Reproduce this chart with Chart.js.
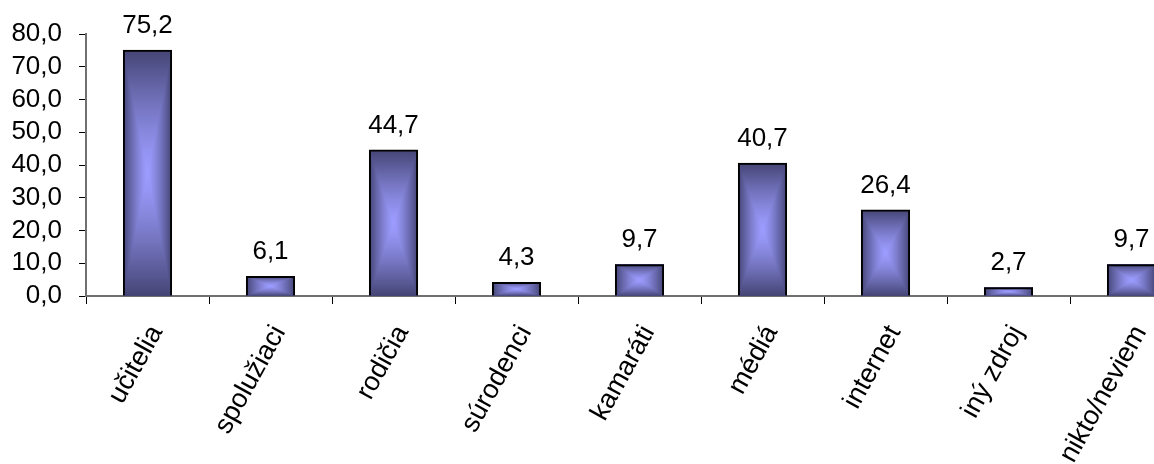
<!DOCTYPE html>
<html>
<head>
<meta charset="utf-8">
<script src="https://cdn.jsdelivr.net/npm/chart.js@4.4.1/dist/chart.umd.min.js"></script>
<style>
  html, body { margin: 0; padding: 0; background: #fff; overflow: hidden; width: 1154px; height: 464px; }
  #wrap { position: absolute; left: 0; top: 0; width: 1193px; height: 464px; }
</style>
</head>
<body>
<div id="wrap"><canvas id="c" width="1193" height="464"></canvas></div>
<script>
const categories = ['učitelia', 'spolužiaci', 'rodičia', 'súrodenci', 'kamaráti', 'médiá', 'internet', 'iný zdroj', 'nikto/neviem'];
const values = [75.2, 6.1, 44.7, 4.3, 9.7, 40.7, 26.4, 2.7, 9.7];
const yMin = 0, yMax = 80, yStep = 10;

const FONT = '"Liberation Sans", Arial, sans-serif';
const fmt = v => Number(v).toFixed(1).replace('.', ',');

const EDGE = [68, 68, 116], CENTER = [156, 156, 255];

const boxGradientPlugin = {
  id: 'boxGradient',
  beforeDatasetsDraw(chart) {
    const ctx = chart.ctx;
    const meta = chart.getDatasetMeta(0);
    meta.data.forEach(bar => {
      const l = Math.round(bar.x - bar.width / 2), r = Math.round(bar.x + bar.width / 2);
      const t = Math.round(Math.min(bar.y, bar.base)), b = Math.round(Math.max(bar.y, bar.base));
      const w = r - l, h = b - t;
      if (w <= 0 || h <= 0) return;
      const off = document.createElement('canvas');
      off.width = w; off.height = h;
      const octx = off.getContext('2d');
      const img = octx.createImageData(w, h);
      const hw = w / 2, hh = h / 2;
      for (let y = 0; y < h; y++) {
        for (let x = 0; x < w; x++) {
          const dx = Math.abs(x + 0.5 - hw) / hw;
          const dy = Math.abs(y + 0.5 - hh) / hh;
          const tt = Math.max(dx, dy);
          const k = 1 - Math.pow(tt, 1.3);
          const i = (y * w + x) * 4;
          img.data[i] = EDGE[0] + (CENTER[0] - EDGE[0]) * k;
          img.data[i + 1] = EDGE[1] + (CENTER[1] - EDGE[1]) * k;
          img.data[i + 2] = EDGE[2] + (CENTER[2] - EDGE[2]) * k;
          img.data[i + 3] = 255;
        }
      }
      octx.putImageData(img, 0, 0);
      ctx.drawImage(off, l, t);
    });
  },
  afterDatasetsDraw(chart) {
    const ctx = chart.ctx;
    const meta = chart.getDatasetMeta(0);
    ctx.save();
    ctx.fillStyle = '#000';
    ctx.font = '26px ' + FONT;
    ctx.textAlign = 'center';
    ctx.textBaseline = 'alphabetic';
    meta.data.forEach((bar, i) => {
      ctx.fillText(fmt(chart.data.datasets[0].data[i]), bar.x, bar.y - 17);
    });
    ctx.restore();
  }
};

new Chart(document.getElementById('c'), {
  type: 'bar',
  data: {
    labels: categories,
    datasets: [{
      data: values,
      backgroundColor: 'rgba(0,0,0,0)',
      borderColor: '#000',
      borderWidth: 2,
      barPercentage: 0.4,
      categoryPercentage: 1
    }]
  },
  options: {
    responsive: false,
    animation: false,
    devicePixelRatio: 1,
    layout: { padding: { top: 34, left: 0, right: 0, bottom: 0 } },
    plugins: { legend: { display: false }, tooltip: { enabled: false } },
    scales: {
      x: {
        offset: true,
        grid: { offset: true, drawOnChartArea: false, drawTicks: true, tickLength: 8, color: '#000', tickColor: '#000' },
        border: { display: true, color: '#707070', width: 2 },
        ticks: {
          color: '#000',
          font: { family: FONT, size: 27 },
          minRotation: 61, maxRotation: 61, autoSkip: false, padding: 16, labelOffset: 9
        },
        afterFit(scale) { scale.height = 464 - 296; }
      },
      y: {
        min: yMin, max: yMax,
        grid: { drawOnChartArea: false, drawTicks: true, tickLength: 7, color: '#000', tickColor: '#000' },
        border: { display: true, color: '#707070', width: 2 },
        ticks: {
          stepSize: yStep, color: '#000', padding: 17, autoSkip: false,
          font: { family: FONT, size: 26 },
          callback: v => fmt(v)
        },
        afterFit(scale) { scale.width = 86; }
      }
    }
  },
  plugins: [boxGradientPlugin]
});
</script>
</body>
</html>
